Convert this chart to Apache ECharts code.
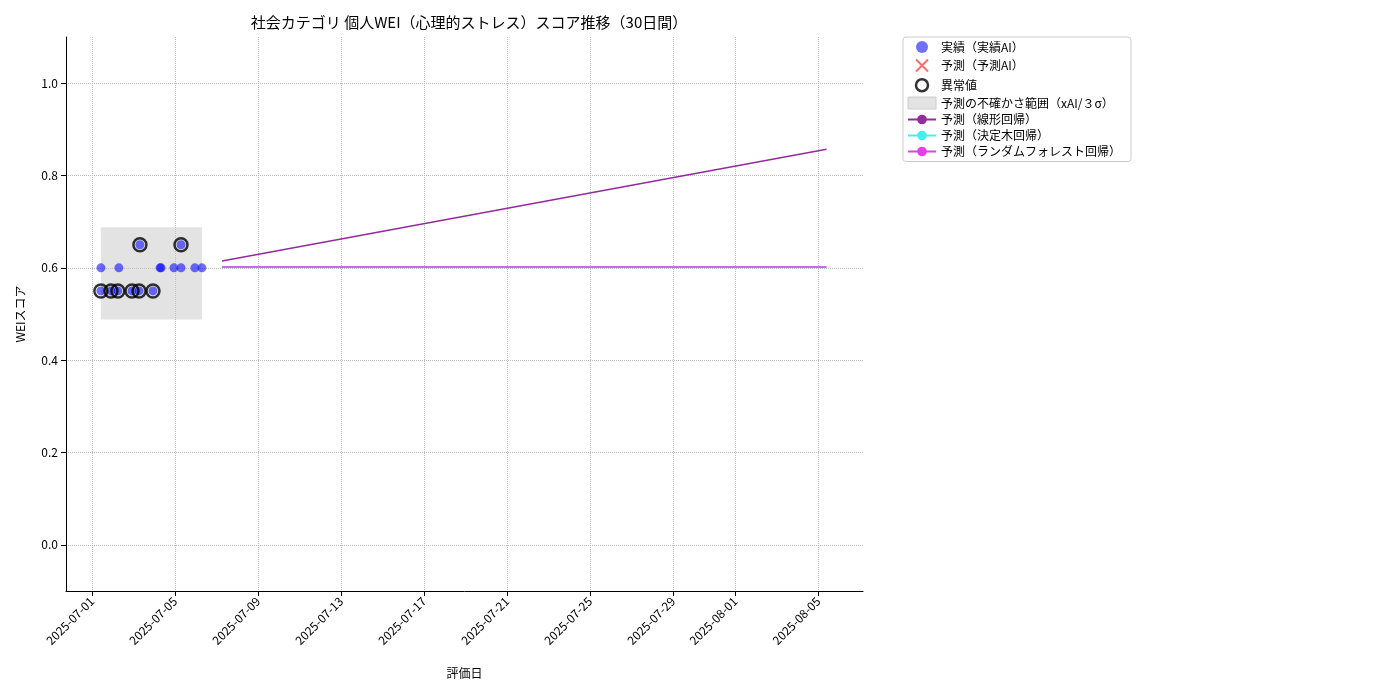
<!DOCTYPE html><html><head><meta charset="utf-8"><script src="https://cdn.jsdelivr.net/npm/echarts@6/dist/echarts.min.js"></script></head><body style="margin:0"><div id="c" style="width:1400px;height:700px"></div><script>
const actualTimes=['2025-07-01 10:20','2025-07-01 22:00','2025-07-02 06:00','2025-07-02 07:10','2025-07-02 22:20','2025-07-03 06:30','2025-07-03 07:30','2025-07-03 22:35','2025-07-04 06:45','2025-07-04 08:00','2025-07-04 22:50','2025-07-05 07:00','2025-07-05 07:05','2025-07-05 23:00','2025-07-06 07:10','2025-07-01 10:25'];
const actualValues=[0.55,0.55,0.55,0.60,0.55,0.55,0.65,0.55,0.60,0.60,0.60,0.65,0.60,0.60,0.60,0.60];
const anomalyTimes=['2025-07-01 10:20','2025-07-01 22:00','2025-07-02 06:00','2025-07-02 22:20','2025-07-03 06:30','2025-07-03 07:30','2025-07-03 22:35','2025-07-05 07:00'];
const anomalyValues=[0.55,0.55,0.55,0.55,0.55,0.65,0.55,0.65];
const bandX=['2025-07-01 10:20','2025-07-06 07:10'];
const bandY=[0.488,0.688];
const predTimes=['2025-07-07 06:30','2025-08-05 09:40'];
const linearValues=[0.615,0.857];
const treeValues=[0.602,0.602];
const forestValues=[0.602,0.602];
const tickLabels=['2025-07-01','2025-07-05','2025-07-09','2025-07-13','2025-07-17','2025-07-21','2025-07-25','2025-07-29','2025-08-01','2025-08-05'];
const ticks=tickLabels.map(s=>+new Date(s+'T00:00:00'));
const t=s=>+new Date(s.replace(' ','T')+':00');
const F='"Noto Sans CJK JP",sans-serif';
const gridLine={show:true,lineStyle:{type:'dotted',color:'#bbb'}};
const xPath='path://M0,0L10,10M10,0L0,10';
const ch=echarts.init(document.getElementById('c'));
ch.setOption({animation:false,textStyle:{fontFamily:F},
title:{text:'社会カテゴリ 個人WEI（心理的ストレス）スコア推移（30日間）',left:464,top:10,textAlign:'center',textStyle:{fontSize:15,fontWeight:'normal',color:'#000',fontFamily:F}},
grid:{left:66,right:537,top:37,bottom:109},
legend:{orient:'vertical',left:903,top:37,padding:[4,10,4,4],itemGap:4,itemWidth:28,itemHeight:12,borderColor:'#ccc',borderWidth:1,borderRadius:3,textStyle:{fontSize:12,color:'#000',fontFamily:F},
 data:[{name:'実績（実績AI）',icon:'circle'},{name:'予測（予測AI）',icon:xPath,itemStyle:{color:'none',borderColor:'#ff4444',borderWidth:2}},{name:'異常値',icon:'circle',itemStyle:{color:'#fff',borderColor:'#000',borderWidth:2.5}},{name:'予測の不確かさ範囲（xAI/３σ）',icon:'rect',itemStyle:{color:'#e3e3e3',borderColor:'#ccc',borderWidth:1}},'予測（線形回帰）','予測（決定木回帰）','予測（ランダムフォレスト回帰）']},
xAxis:{type:'value',min:t('2025-06-29 18:00'),max:t('2025-08-07 03:50'),name:'評価日',nameLocation:'middle',nameGap:76,nameTextStyle:{fontSize:12,color:'#000'},
 axisLine:{onZero:false,lineStyle:{color:'#000'}},axisTick:{customValues:ticks,lineStyle:{color:'#000'}},
 axisLabel:{customValues:ticks,rotate:45,color:'#000',fontSize:12,formatter:v=>{const d=new Date(v);return d.getFullYear()+'-'+String(d.getMonth()+1).padStart(2,'0')+'-'+String(d.getDate()).padStart(2,'0');}},
 splitLine:gridLine},
yAxis:{type:'value',min:-0.1,max:1.1,name:'WEIスコア',nameLocation:'middle',nameGap:40,nameTextStyle:{fontSize:12,color:'#000'},
 axisLine:{show:true,onZero:false,lineStyle:{color:'#000'}},axisTick:{show:true,customValues:[0,0.2,0.4,0.6,0.8,1.0]},
 axisLabel:{customValues:[0,0.2,0.4,0.6,0.8,1.0],color:'#000',fontSize:12,formatter:v=>v.toFixed(1)},splitLine:gridLine},
series:[
{name:'予測の不確かさ範囲（xAI/３σ）',type:'line',data:[],itemStyle:{color:'#e3e3e3'},
 markArea:{silent:true,itemStyle:{color:'rgba(200,200,200,0.5)'},data:[[{coord:[t(bandX[0]),bandY[0]]},{coord:[t(bandX[1]),bandY[1]]}]]}},
{name:'実績（実績AI）',type:'scatter',symbolSize:9,itemStyle:{color:'rgba(0,0,255,0.7)'},data:actualTimes.map((s,i)=>[t(s),actualValues[i]]),z:3},
{name:'予測（予測AI）',type:'scatter',symbol:xPath,data:[],itemStyle:{color:'#ff4444'}},
{name:'異常値',type:'scatter',symbolSize:13,itemStyle:{color:'none',borderColor:'#000',borderWidth:2.5},data:anomalyTimes.map((s,i)=>[t(s),anomalyValues[i]]),z:4},
{name:'予測（線形回帰）',type:'line',symbol:'none',lineStyle:{width:1.5,color:'#922b9c'},itemStyle:{color:'#922b9c'},data:predTimes.map((s,i)=>[t(s),linearValues[i]])},
{name:'予測（決定木回帰）',type:'line',symbol:'none',lineStyle:{width:1.5,color:'#44eeee'},itemStyle:{color:'#44eeee'},data:predTimes.map((s,i)=>[t(s),treeValues[i]])},
{name:'予測（ランダムフォレスト回帰）',type:'line',symbol:'none',lineStyle:{width:1.5,color:'#e040e8'},itemStyle:{color:'#e040e8'},data:predTimes.map((s,i)=>[t(s),forestValues[i]])}
]});
</script></body></html>
